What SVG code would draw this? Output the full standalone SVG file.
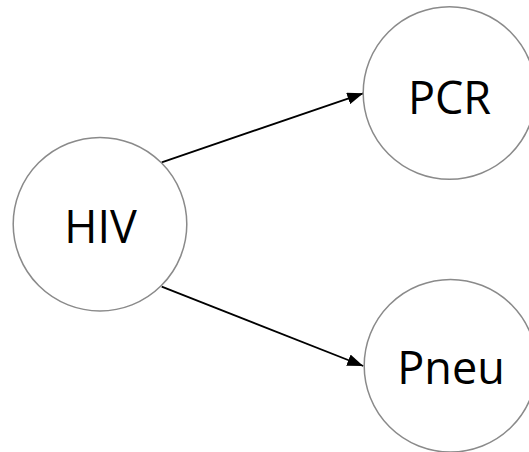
<svg xmlns="http://www.w3.org/2000/svg" width="529" height="452" viewBox="0 0 529 452">
  <style>
    .node circle { fill: #ffffff; stroke: #8a8a8a; stroke-width: 1.5; }
    .node text { font-family: "Open Sans", "Noto Sans", sans-serif; font-size: 45px; fill: #000000; text-anchor: middle; }
    .edge { stroke: #000000; stroke-width: 1.8; fill: none; marker-end: url(#arrow); }
  </style>
  <defs>
    <!-- filled triangular arrowhead, sized in user units -->
    <marker id="arrow" viewBox="0 0 16 12" refX="16" refY="6" markerWidth="16" markerHeight="12" markerUnits="userSpaceOnUse" orient="auto">
      <path d="M0,0 L16,6 L0,12 z" fill="#000000"/>
    </marker>
  </defs>
  <rect width="529" height="452" fill="#ffffff"/>

  <g id="connectors">
    <line class="edge" x1="161.7" y1="162.3" x2="363.3" y2="93.3"/>
    <line class="edge" x1="161.7" y1="286.7" x2="363.3" y2="366"/>
  </g>

  <g id="node-hiv" class="node">
    <circle cx="100" cy="224.2" r="86.8"/>
    <text x="100.5" y="242.5">HIV</text>
  </g>

  <g id="node-pcr" class="node">
    <circle cx="449.5" cy="93" r="86.3"/>
    <text x="449.5" y="114">PCR</text>
  </g>

  <g id="node-pneu" class="node">
    <circle cx="450.5" cy="365.8" r="86.3"/>
    <text x="451" y="384">Pneu</text>
  </g>
</svg>
